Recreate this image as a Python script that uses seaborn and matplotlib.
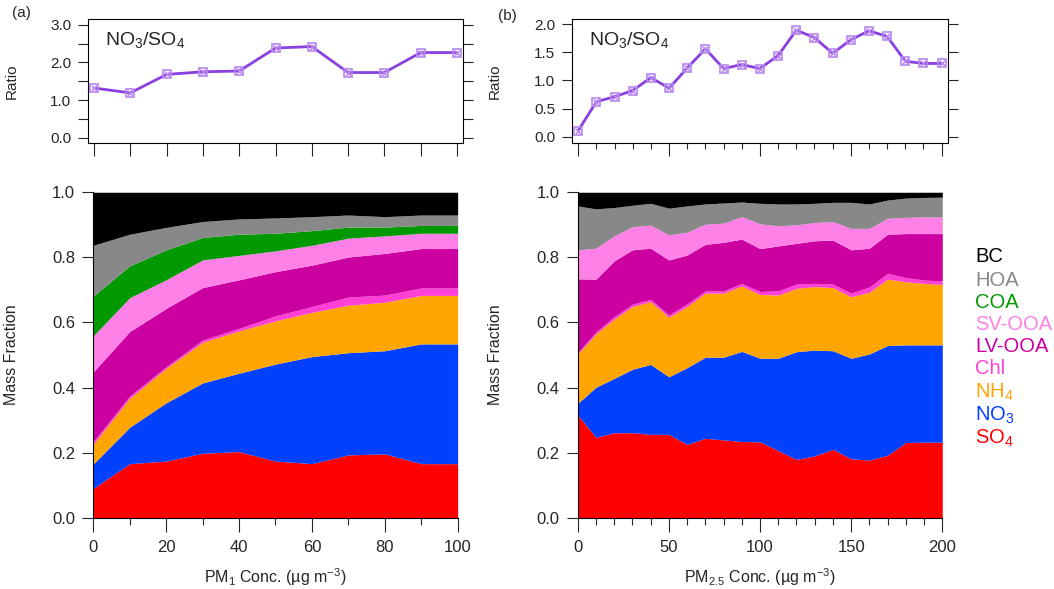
import numpy as np
import matplotlib
matplotlib.use("Agg")
import matplotlib.pyplot as plt
from matplotlib.ticker import MultipleLocator
import seaborn as sns

sns.set_style("ticks")
plt.rcParams['font.family'] = ['Liberation Sans', 'DejaVu Sans']
plt.rcParams['mathtext.fontset'] = 'custom'
plt.rcParams['mathtext.rm'] = 'Liberation Sans'
plt.rcParams['mathtext.it'] = 'Liberation Sans:italic'

# --- data: NO3/SO4 ratio ---
pm1_x = [0, 10, 20, 30, 40, 50, 60, 70, 80, 90, 100]
pm1_ratio = [1.32, 1.19, 1.68, 1.75, 1.77, 2.38, 2.42, 1.73, 1.73, 2.26, 2.26]

pm25_x = list(range(0, 201, 10))
pm25_ratio = [0.11, 0.62, 0.71, 0.82, 1.05, 0.86, 1.22, 1.56, 1.21, 1.28, 1.21,
              1.44, 1.89, 1.76, 1.48, 1.72, 1.88, 1.78, 1.34, 1.30, 1.30]

# --- data: cumulative mass fraction (top of each layer), PM1 ---
species = ['SO4', 'NO3', 'NH4', 'Chl', 'LV-OOA', 'SV-OOA', 'COA', 'HOA', 'BC']
pm1_so4 = [0.090, 0.166, 0.174, 0.198, 0.203, 0.174, 0.166, 0.193, 0.196, 0.166, 0.166]
pm1_no3 = [0.165, 0.278, 0.353, 0.414, 0.444, 0.472, 0.495, 0.507, 0.513, 0.534, 0.534]
pm1_nh4 = [0.226, 0.367, 0.459, 0.539, 0.574, 0.605, 0.631, 0.653, 0.662, 0.683, 0.683]
pm1_chl = [0.234, 0.374, 0.464, 0.546, 0.582, 0.620, 0.649, 0.678, 0.684, 0.706, 0.706]
pm1_lvooa = [0.448, 0.572, 0.643, 0.707, 0.731, 0.756, 0.776, 0.801, 0.812, 0.827, 0.827]
pm1_svooa = [0.559, 0.676, 0.731, 0.792, 0.806, 0.820, 0.837, 0.859, 0.866, 0.874, 0.874]
pm1_coa = [0.681, 0.774, 0.823, 0.861, 0.871, 0.874, 0.882, 0.893, 0.893, 0.898, 0.898]
pm1_hoa = [0.837, 0.871, 0.892, 0.910, 0.918, 0.921, 0.925, 0.930, 0.925, 0.930, 0.930]
pm1_bc = [1.0] * 11

# --- data: cumulative mass fraction, PM2.5 (no COA) ---
pm25_so4 = [0.316, 0.247, 0.261, 0.261, 0.256, 0.256, 0.225, 0.244, 0.239, 0.234, 0.233,
            0.206, 0.179, 0.190, 0.210, 0.181, 0.177, 0.192, 0.231, 0.232, 0.232]
pm25_no3 = [0.351, 0.401, 0.428, 0.456, 0.471, 0.433, 0.461, 0.493, 0.493, 0.511, 0.490,
            0.490, 0.510, 0.515, 0.513, 0.490, 0.503, 0.529, 0.531, 0.531, 0.531]
pm25_nh4 = [0.503, 0.565, 0.610, 0.649, 0.664, 0.616, 0.649, 0.690, 0.690, 0.712, 0.686,
            0.684, 0.705, 0.710, 0.707, 0.679, 0.693, 0.733, 0.725, 0.720, 0.717]
pm25_chl = [0.507, 0.571, 0.618, 0.656, 0.671, 0.623, 0.657, 0.697, 0.697, 0.720, 0.695,
            0.697, 0.718, 0.720, 0.718, 0.690, 0.709, 0.751, 0.738, 0.730, 0.728]
pm25_lvooa = [0.734, 0.733, 0.789, 0.823, 0.828, 0.792, 0.807, 0.840, 0.846, 0.856, 0.827,
              0.835, 0.843, 0.851, 0.853, 0.823, 0.828, 0.871, 0.873, 0.873, 0.873]
pm25_svooa = [0.823, 0.828, 0.866, 0.894, 0.899, 0.869, 0.877, 0.902, 0.905, 0.925, 0.903,
              0.897, 0.900, 0.907, 0.910, 0.889, 0.889, 0.920, 0.923, 0.924, 0.924]
pm25_coa = pm25_svooa
pm25_hoa = [0.958, 0.949, 0.953, 0.960, 0.966, 0.951, 0.958, 0.964, 0.967, 0.970, 0.966,
            0.964, 0.964, 0.966, 0.969, 0.969, 0.964, 0.976, 0.982, 0.984, 0.985]
pm25_bc = [1.0] * 21

colors = ['#ff0000', '#0040ff', '#ffa500', '#ff40d6', '#cc00a0',
          '#ff80e6', '#009900', '#888888', '#000000']
legend_labels = ['SO$_\\mathregular{4}$', 'NO$_\\mathregular{3}$', 'NH$_\\mathregular{4}$',
                 'Chl', 'LV-OOA', 'SV-OOA', 'COA', 'HOA', 'BC']

line_col = '#8a3fe0'
mark_col = '#b888f0'

fig = plt.figure(figsize=(10.54, 5.89), dpi=100)
ax_at = fig.add_axes([0.0835, 0.7572, 0.3558, 0.2105])
ax_ab = fig.add_axes([0.0885, 0.1211, 0.3457, 0.5525])
ax_bt = fig.add_axes([0.5424, 0.7572, 0.3567, 0.2105])
ax_bb = fig.add_axes([0.5481, 0.1211, 0.3459, 0.5525])


def ratio_panel(ax, x, y):
    sns.lineplot(x=x, y=y, ax=ax, color=line_col, lw=2, marker='s', markersize=6,
                 markerfacecolor='none', markeredgecolor=mark_col, markeredgewidth=1.2)
    ax.plot(x, y, 'x', color=mark_col, markersize=4.5, mew=1)
    ax.text(0.045, 0.83, 'NO$_\\mathregular{3}$/SO$_\\mathregular{4}$', transform=ax.transAxes,
            fontsize=14, va='center')
    ax.set_ylabel('Ratio', fontsize=11)
    ax.yaxis.set_label_coords(-0.186, 0.5)
    ax.tick_params(axis='y', which='both', direction='out', length=7, width=0.8,
                   labelsize=11, pad=5, right=True)
    ax.tick_params(axis='x', which='major', direction='out', length=9, width=0.8,
                   labelbottom=False)
    ax.tick_params(axis='x', which='minor', direction='out', length=4, width=0.8)
    for s in ax.spines.values():
        s.set_linewidth(0.8)
        s.set_color('black')


ratio_panel(ax_at, pm1_x, pm1_ratio)
ax_at.set_xlim(-1.65, 101.65)
ax_at.set_ylim(-0.14, 3.15)
ax_at.xaxis.set_major_locator(MultipleLocator(10))
ax_at.yaxis.set_major_locator(MultipleLocator(1))
ax_at.yaxis.set_minor_locator(MultipleLocator(0.5))
ax_at.yaxis.set_major_formatter('{x:.1f}')

ratio_panel(ax_bt, pm25_x, pm25_ratio)
ax_bt.set_xlim(-3.6, 203.3)
ax_bt.set_ylim(-0.112, 2.089)
ax_bt.xaxis.set_major_locator(MultipleLocator(50))
ax_bt.xaxis.set_minor_locator(MultipleLocator(10))
ax_bt.yaxis.set_major_locator(MultipleLocator(0.5))
ax_bt.yaxis.set_major_formatter('{x:.1f}')


def stack_panel(ax, x, tops, xmaj, xlabel):
    tops = np.array(tops)
    layers = np.diff(np.vstack([np.zeros(len(x)), tops]), axis=0)
    ax.stackplot(x, layers, colors=colors, linewidth=0)
    ax.set_xlim(x[0], x[-1])
    ax.set_ylim(0, 1)
    ax.xaxis.set_major_locator(MultipleLocator(xmaj))
    ax.xaxis.set_minor_locator(MultipleLocator(10))
    ax.yaxis.set_major_locator(MultipleLocator(0.2))
    ax.yaxis.set_major_formatter('{x:.1f}')
    ax.tick_params(axis='y', direction='out', length=8, width=0.8, labelsize=12, pad=5)
    ax.tick_params(axis='x', which='major', direction='out', length=10, width=0.8,
                   labelsize=12, pad=6)
    ax.tick_params(axis='x', which='minor', direction='out', length=5, width=0.8)
    ax.set_ylabel('Mass Fraction', fontsize=11.5)
    ax.yaxis.set_label_coords(-0.204, 0.5)
    ax.set_xlabel(xlabel, fontsize=11.5)
    ax.xaxis.set_label_coords(0.5, -0.15)
    for side in ['top', 'right']:
        ax.spines[side].set_visible(False)
    for side in ['left', 'bottom']:
        ax.spines[side].set_linewidth(0.8)
        ax.spines[side].set_color('black')


stack_panel(ax_ab, pm1_x,
            [pm1_so4, pm1_no3, pm1_nh4, pm1_chl, pm1_lvooa, pm1_svooa, pm1_coa, pm1_hoa, pm1_bc],
            20, 'PM$_\\mathregular{1}$ Conc. (µg m$^\\mathregular{-3}$)')
stack_panel(ax_bb, pm25_x,
            [pm25_so4, pm25_no3, pm25_nh4, pm25_chl, pm25_lvooa, pm25_svooa, pm25_coa, pm25_hoa, pm25_bc],
            50, 'PM$_\\mathregular{2.5}$ Conc. (µg m$^\\mathregular{-3}$)')

# legend as coloured text
leg_y = [438.5, 415, 392, 369, 347, 324.5, 302, 280, 256]
for lab, col, yp in zip(legend_labels, colors, leg_y):
    fig.text(975 / 1054, 1 - yp / 589, lab, color=col, fontsize=14.5, va='center', ha='left')

fig.text(12 / 1054, 1 - 13 / 589, '(a)', fontsize=11, va='center')
fig.text(498 / 1054, 1 - 16 / 589, '(b)', fontsize=11, va='center')

fig.savefig('out.png', dpi=100)
